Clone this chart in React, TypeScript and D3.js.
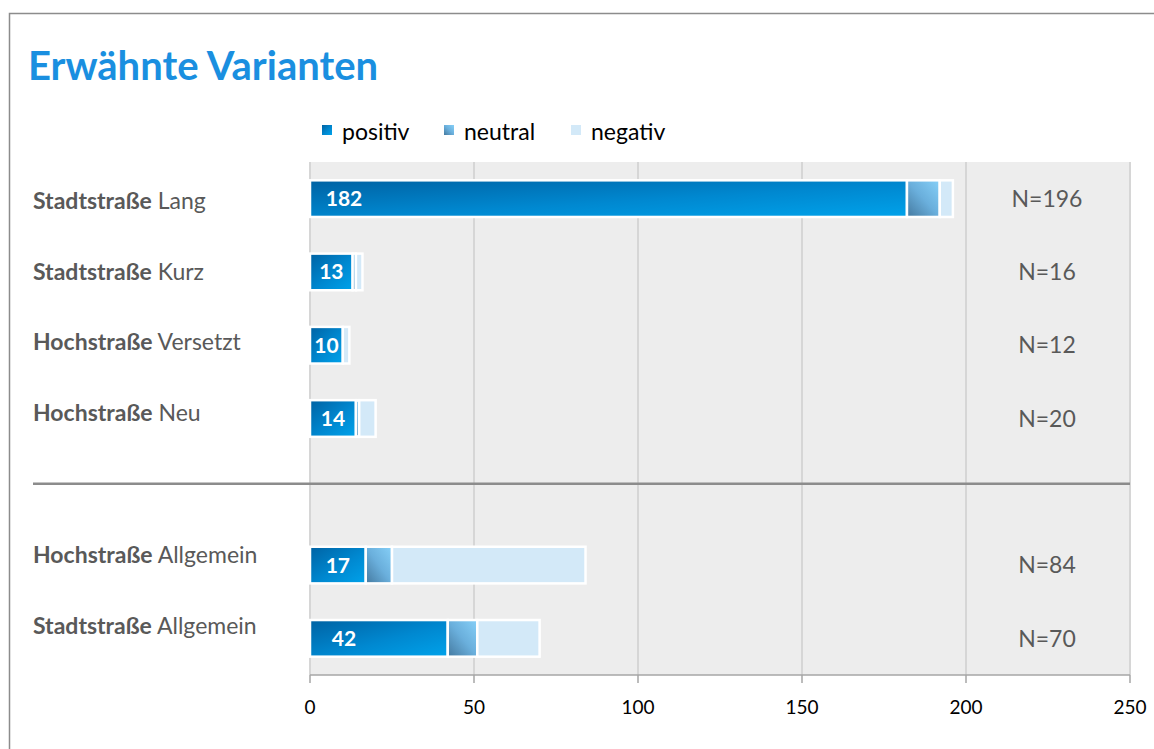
import React from "react";
import * as d3 from "d3";

const boldNames = ["Stadtstraße", "Stadtstraße", "Hochstraße", "Hochstraße", "", "Hochstraße", "Stadtstraße"];
const lightNames = ["Lang", "Kurz", "Versetzt", "Neu", "", "Allgemein", "Allgemein"];
const positive = [182, 13, 10, 14, 0, 17, 42];
const neutral = [10, 1, 0, 1, 0, 8, 9];
const negative = [4, 2, 2, 5, 0, 59, 19];
const isSeparator = [false, false, false, false, true, false, false];
const seriesNames = ["positiv", "neutral", "negativ"];
const xTicks = [0, 50, 100, 150, 200, 250];

const W = 1154;
const H = 749;
const FONT = "Lato, 'Open Sans', sans-serif";

export default function App() {
  const plot = { left: 310, right: 1130, top: 162, bottom: 675 };
  const x = d3.scaleLinear().domain([0, 250]).range([plot.left, plot.right]);
  const idx = d3.range(boldNames.length);
  const y = d3.scaleBand<number>().domain(idx).range([plot.top, plot.bottom]).paddingInner(0.5).paddingOuter(0.25);
  const yLabel = d3.scaleBand<number>().domain(idx).range([165, 661]);
  const series = [positive, neutral, negative];
  const fills = ["url(#gPos)", "url(#gNeu)", "#d3e9f8"];
  const stack = d3.stack<number>().keys(["0", "1", "2"]).value((i, k) => series[+k][i]);
  const stacked = stack(idx);

  const legendX = [322, 444, 571];

  return (
    <svg width={W} height={H} style={{ position: "absolute", left: 0, top: 0, background: "#fff" }} fontFamily={FONT}>
      <defs>
        <linearGradient id="gPos" x1="0" y1="0" x2="1" y2="1">
          <stop offset="0" stopColor="#0062a3" />
          <stop offset="0.55" stopColor="#0088d0" />
          <stop offset="1" stopColor="#00a2ea" />
        </linearGradient>
        <linearGradient id="gNeu" x1="0" y1="1" x2="1" y2="0">
          <stop offset="0" stopColor="#44799f" />
          <stop offset="0.5" stopColor="#6aafdc" />
          <stop offset="1" stopColor="#86d0f8" />
        </linearGradient>
      </defs>
      <rect x={9.5} y={13.5} width={1200} height={800} fill="#fff" stroke="#8c8c8c" strokeWidth={1.5} />
      <text x={28} y={80} fontSize={40} fontWeight={700} fill="#1a8fe0">Erwähnte Varianten</text>

      {seriesNames.map((s, i) => (
        <g key={s}>
          <rect x={legendX[i]} y={125} width={10} height={10} fill={fills[i]} />
          <text x={legendX[i] + 20} y={140} fontSize={23} fill="#000">{s}</text>
        </g>
      ))}

      <rect x={plot.left} y={plot.top} width={plot.right - plot.left} height={plot.bottom - plot.top} fill="#ededed" />
      {xTicks.map((t) => (
        <line key={t} x1={x(t)} x2={x(t)} y1={plot.top} y2={plot.bottom} stroke="#d6d6d6" strokeWidth={2} />
      ))}
      <line x1={plot.left} x2={plot.right} y1={plot.bottom} y2={plot.bottom} stroke="#a6a6a6" strokeWidth={1.5} />
      {xTicks.map((t) => (
        <g key={"t" + t}>
          <line x1={x(t)} x2={x(t)} y1={plot.bottom} y2={plot.bottom + 8} stroke="#a6a6a6" strokeWidth={1.5} />
          <text x={x(t)} y={714} fontSize={19} textAnchor="middle" fill="#000">{t}</text>
        </g>
      ))}

      {idx.filter((i) => isSeparator[i]).map((i) => (
        <line key={"sep" + i} x1={33} x2={plot.right} y1={yLabel(i)! + yLabel.bandwidth() / 2} y2={yLabel(i)! + yLabel.bandwidth() / 2} stroke="#8c8c8c" strokeWidth={2.5} />
      ))}

      {stacked.map((layer, li) =>
        layer.map((d, i) => {
          if (isSeparator[i] || d[1] - d[0] <= 0) return null;
          return (
            <rect key={li + "-" + i} x={x(d[0])} y={y(i)} width={x(d[1]) - x(d[0])} height={y.bandwidth()} fill={fills[li]} stroke="#fff" strokeWidth={2.5} />
          );
        })
      )}

      {idx.filter((i) => !isSeparator[i]).map((i) => {
        const cy = y(i)! + y.bandwidth() / 2;
        const w = x(positive[i]) - x(0);
        const total = positive[i] + neutral[i] + negative[i];
        const lcy = yLabel(i)! + yLabel.bandwidth() / 2;
        return (
          <g key={"lab" + i}>
            <text x={x(0) + Math.min(w / 2, 34)} y={cy} dy="0.36em" textAnchor="middle" fontSize={21} fontWeight={700} fill="#fff">{positive[i]}</text>
            <text x={1047} y={cy} dy="0.36em" textAnchor="middle" fontSize={23} fill="#595959">{"N=" + total}</text>
            <text x={33} y={lcy} dy="0.36em" fontSize={23} fill="#595959">
              <tspan fontWeight={700}>{boldNames[i]}</tspan>
              <tspan>{" " + lightNames[i]}</tspan>
            </text>
          </g>
        );
      })}
    </svg>
  );
}
